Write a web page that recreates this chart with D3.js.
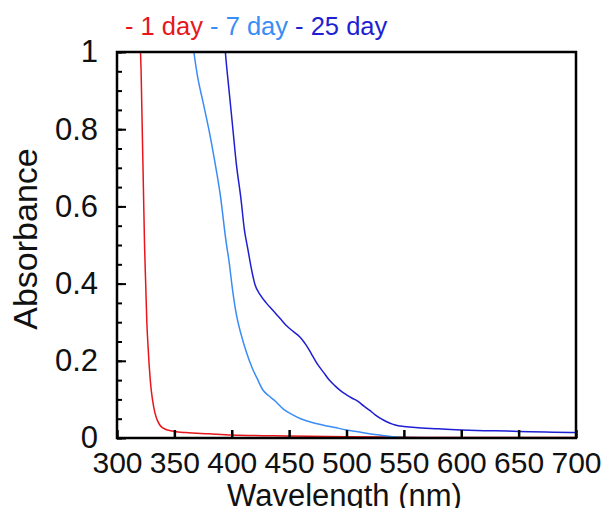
<!DOCTYPE html>
<html>
<head>
<meta charset="utf-8">
<script src="https://cdn.jsdelivr.net/npm/d3@7"></script>
<style>
  body { margin: 0; background: #fff; }
  svg text { font-family: 'Liberation Sans', Arial, sans-serif; fill: #111; }
</style>
</head>
<body>
<div id="vis"></div>
<script>
// wavelength (nm) / absorbance
const day1Wl = [320, 321, 322, 323, 324, 325, 326, 327, 328, 329, 330, 332, 334, 337, 340, 345, 350, 360, 380, 400, 450, 500, 550, 600, 700]
const day1Abs = [1.05, 0.95, 0.8, 0.65, 0.5, 0.4, 0.3, 0.24, 0.19, 0.15, 0.12, 0.08, 0.055, 0.035, 0.026, 0.02, 0.017, 0.014, 0.011, 0.008, 0.005, 0.003, 0.002, 0.001, 0.001]

const day7Wl = [365, 367, 370, 375, 380, 385, 390, 395, 398, 400, 404, 408, 413, 418, 422, 427, 432, 437, 445, 452, 460, 470, 480, 490, 500, 510, 520, 530, 540, 550, 600, 700]
const day7Abs = [1.05, 1.0, 0.94, 0.87, 0.8, 0.72, 0.63, 0.51, 0.45, 0.4, 0.32, 0.27, 0.22, 0.18, 0.155, 0.125, 0.11, 0.098, 0.075, 0.062, 0.05, 0.04, 0.033, 0.027, 0.021, 0.016, 0.011, 0.007, 0.003, 0.001, 0, 0]

const day25Wl = [393, 395, 398, 401, 404, 408, 411, 414, 417, 420, 425, 430, 436, 442, 448, 454, 460, 465, 470, 475, 480, 485, 490, 495, 500, 505, 510, 515, 520, 525, 530, 535, 540, 545, 550, 560, 580, 600, 620, 640, 660, 680, 700]
const day25Abs = [1.05, 0.98, 0.89, 0.8, 0.71, 0.62, 0.54, 0.49, 0.44, 0.4, 0.37, 0.35, 0.33, 0.31, 0.29, 0.275, 0.26, 0.24, 0.215, 0.19, 0.17, 0.15, 0.135, 0.122, 0.112, 0.103, 0.095, 0.083, 0.072, 0.06, 0.05, 0.042, 0.036, 0.032, 0.03, 0.027, 0.024, 0.021, 0.019, 0.018, 0.016, 0.015, 0.014]

const seriesNames = ['1 day', '7 day', '25 day']
const seriesColors = ['#e8161b', '#3a8cf6', '#1e1ed2']
const xTicks = [300, 350, 400, 450, 500, 550, 600, 650, 700]
const yTicks = [0, 0.2, 0.4, 0.6, 0.8, 1]

const width = 602
const height = 508
const margin = { top: 52, right: 26, bottom: 70, left: 117 }
const chartWidth = width - margin.left - margin.right
const chartHeight = height - margin.top - margin.bottom

const series = [
  day1Wl.map((w, i) => ({ wl: w, abs: day1Abs[i] })),
  day7Wl.map((w, i) => ({ wl: w, abs: day7Abs[i] })),
  day25Wl.map((w, i) => ({ wl: w, abs: day25Abs[i] }))
]

const svg = d3.select('#vis').append('svg')
  .attr('width', width).attr('height', height)

const g = svg.append('g')
  .attr('transform', `translate(${margin.left},${margin.top})`)

const x = d3.scaleLinear().domain([300, 700]).range([0, chartWidth])
const y = d3.scaleLinear().domain([0, 1]).range([chartHeight, 0])

svg.append('defs').append('clipPath')
  .attr('id', 'plot-clip')
  .append('rect')
  .attr('width', chartWidth).attr('height', chartHeight)

const line = d3.line()
  .curve(d3.curveMonotoneX)
  .x((d) => x(d.wl))
  .y((d) => y(d.abs))

g.append('g')
  .attr('clip-path', 'url(#plot-clip)')
  .selectAll('path')
  .data(series)
  .join('path')
  .attr('fill', 'none')
  .attr('stroke', (d, i) => seriesColors[i])
  .attr('stroke-width', 1.5)
  .attr('d', line)

// minor y ticks
const yMinor = d3.axisLeft(y)
  .tickValues(d3.range(0, 1.001, 0.05))
  .tickSizeInner(-5)
  .tickSizeOuter(0)
  .tickFormat('')
g.append('g').call(yMinor)
  .call((s) => s.select('.domain').remove())
  .selectAll('line').attr('stroke', '#000').attr('stroke-width', 2)

const yAxis = d3.axisLeft(y)
  .tickValues(yTicks)
  .tickSizeInner(-9)
  .tickSizeOuter(0)
  .tickPadding(19)
  .tickFormat((d) => d3.format('')(d))
g.append('g').call(yAxis)
  .call((s) => s.select('.domain').remove())
  .call((s) => s.selectAll('line').attr('stroke', '#000').attr('stroke-width', 2))
  .call((s) => s.selectAll('text').attr('font-size', 31).attr('fill', '#111'))

const xAxis = d3.axisBottom(x)
  .tickValues(xTicks)
  .tickSizeInner(-8)
  .tickSizeOuter(0)
  .tickPadding(14)
g.append('g')
  .attr('transform', `translate(0,${chartHeight})`)
  .call(xAxis)
  .call((s) => s.select('.domain').remove())
  .call((s) => s.selectAll('line').attr('stroke', '#000').attr('stroke-width', 2.5))
  .call((s) => s.selectAll('text').attr('font-size', 30).attr('fill', '#111'))

g.append('rect')
  .attr('width', chartWidth).attr('height', chartHeight)
  .attr('fill', 'none').attr('stroke', '#000').attr('stroke-width', 2.5)

g.append('text')
  .attr('transform', `translate(${-80},${chartHeight / 2 - 6}) rotate(-90)`)
  .attr('text-anchor', 'middle')
  .attr('font-size', 34)
  .text('Absorbance')

svg.append('text')
  .attr('x', margin.left + chartWidth / 2 - 2)
  .attr('y', 506)
  .attr('text-anchor', 'middle')
  .attr('font-size', 31)
  .text('Wavelength (nm)')

// legend: "- 1 day - 7 day - 25 day"
const legend = svg.append('text')
  .attr('x', 125)
  .attr('y', 35)
  .attr('font-size', 25.5)
legend.selectAll('tspan')
  .data(seriesNames)
  .join('tspan')
  .attr('fill', (d, i) => seriesColors[i])
  .text((d, i) => (i ? ' - ' : '- ') + d)
</script>
</body>
</html>
